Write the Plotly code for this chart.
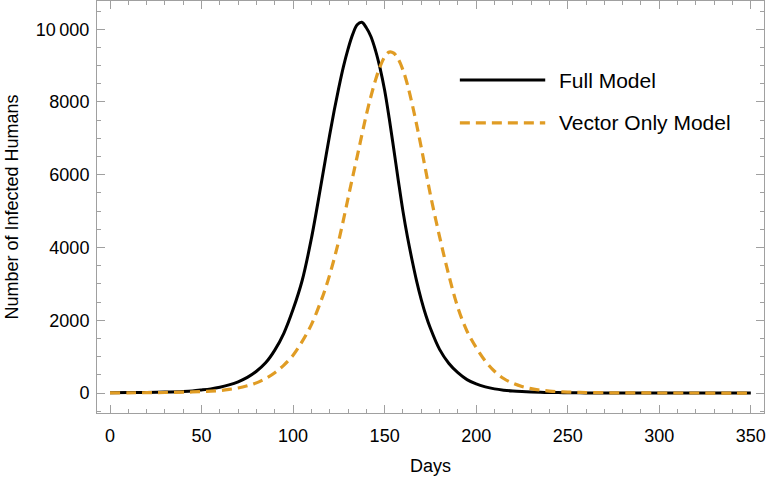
import plotly.graph_objects as go

days = [0, 10, 20, 30, 40, 45, 50, 55, 60, 65, 70, 75, 80, 85, 90, 95, 100, 105, 110,
        115, 117.5, 120, 122.5, 125, 127.5, 130, 132.5, 135, 137.5, 140, 142.5, 145,
        147.5, 150, 152.5, 155, 157.5, 160, 162.5, 165, 167.5, 170, 172.5, 175,
        180, 185, 190, 195, 200, 205, 210, 215, 220, 225, 230, 235, 240, 245, 250,
        255, 260, 270, 280, 290, 300, 310, 320, 330, 340, 350]

full_model = [8, 12, 18, 28, 45, 60, 85, 115, 160, 225, 310, 430, 600, 830, 1180, 1650,
              2300, 3100, 4250,
              5650, 6380, 7100, 7780, 8400, 8970, 9450, 9850, 10120, 10190, 10040, 9800,
              9420, 8930, 8320, 7550, 6700, 5830, 5000, 4280, 3650, 3070, 2570, 2140, 1780,
              1200, 820, 560, 370, 250, 170, 115, 80, 55, 40, 30, 22, 16, 12, 9,
              7, 5, 3, 2, 1, 1, 0.5, 0, 0, 0, 0]

vector_only = [5, 7, 10, 15, 24, 30, 40, 52, 70, 100, 140, 200, 280, 400, 560, 770,
               1040, 1420, 1880,
               2500, 2850, 3250, 3700, 4200, 4760, 5350, 5930, 6500, 7080, 7650, 8150,
               8600, 8970, 9240, 9370, 9340, 9170, 8880, 8470, 7950, 7370, 6750, 6100, 5450,
               4300, 3250, 2350, 1700, 1250, 880, 600, 400, 270, 180, 120, 80, 55, 38, 27,
               19, 14, 8, 5, 3, 2, 1, 1, 0.5, 0, 0]

series_names = ["Full Model", "Vector Only Model"]
x_ticks = [0, 50, 100, 150, 200, 250, 300, 350]
y_ticks = [0, 2000, 4000, 6000, 8000, 10000]
y_ticktext = ["0", "2000", "4000", "6000", "8000", "10\u2009000"]

BLACK = "#000000"
ORANGE = "#E09C24"
FRAME = "#A0A0A0"
FONT = "Liberation Sans, Arial, sans-serif"

fig = go.Figure()
fig.add_trace(go.Scatter(x=days, y=full_model, mode="lines", name=series_names[0],
                         line=dict(color=BLACK, width=3, shape="spline", smoothing=1),
                         showlegend=False))
fig.add_trace(go.Scatter(x=days, y=vector_only, mode="lines", name=series_names[1],
                         line=dict(color=ORANGE, width=3.2, dash="10px,6px",
                                   shape="spline", smoothing=1),
                         showlegend=False))

# legend drawn in paper coordinates (long line samples like the reference)
leg_x0, leg_x1, leg_tx = 0.544, 0.672, 0.690
leg_y = [0.808, 0.704]
fig.add_shape(type="line", xref="paper", yref="paper", x0=leg_x0, x1=leg_x1,
              y0=leg_y[0], y1=leg_y[0], line=dict(color=BLACK, width=3))
fig.add_shape(type="line", xref="paper", yref="paper", x0=leg_x0, x1=leg_x1,
              y0=leg_y[1], y1=leg_y[1], line=dict(color=ORANGE, width=3.2, dash="10px,6px"))
for name, yy in zip(series_names, leg_y):
    fig.add_annotation(xref="paper", yref="paper", x=leg_tx, y=yy, text=name,
                       showarrow=False, xanchor="left", yanchor="middle",
                       font=dict(family=FONT, size=21, color="#000000"))

axis_common = dict(showline=True, linecolor=FRAME, linewidth=1, mirror="ticks",
                   ticks="inside", tickcolor=FRAME, ticklen=8, tickwidth=1,
                   showgrid=False, zeroline=False,
                   tickfont=dict(family=FONT, size=18, color="#000000"))

fig.update_xaxes(range=[-7.1, 357.2], tickvals=x_ticks,
                 minor=dict(dtick=10, tick0=0, ticks="inside", ticklen=4,
                            tickcolor=FRAME, showgrid=False),
                 title=dict(text="Days", font=dict(family=FONT, size=18, color="#000000"),
                            standoff=14),
                 ticklabelstandoff=6, **axis_common)
fig.update_yaxes(range=[-548, 10775], tickvals=y_ticks, ticktext=y_ticktext,
                 minor=dict(dtick=500, tick0=0, ticks="inside", ticklen=4,
                            tickcolor=FRAME, showgrid=False),
                 title=dict(text="Number of Infected Humans",
                            font=dict(family=FONT, size=18, color="#000000"), standoff=12),
                 ticklabelstandoff=3, **axis_common)

fig.update_layout(width=767, height=479, margin=dict(l=97, r=3, t=1, b=66),
                  plot_bgcolor="white", paper_bgcolor="white", showlegend=False)

fig.write_html("out.html", config={"displayModeBar": False},
               post_script="document.body.style.margin='0';")
